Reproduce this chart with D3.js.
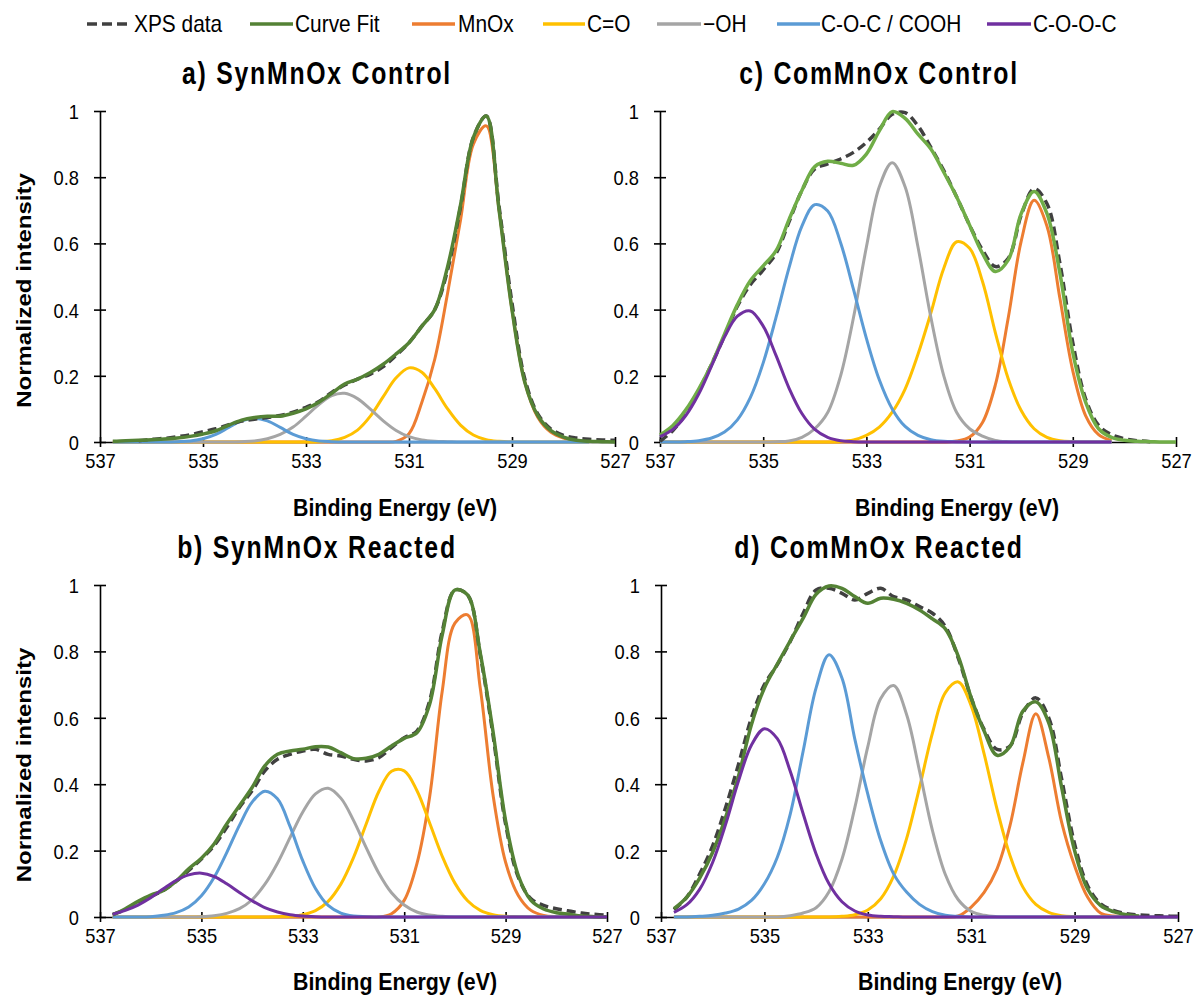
<!DOCTYPE html>
<html>
<head>
<meta charset="utf-8">
<script src="https://cdn.jsdelivr.net/npm/d3@7/dist/d3.min.js"></script>
<style>
  body { margin: 0; background: #fff; }
  text { font-family: "Liberation Sans", Arial, sans-serif; fill: #000; }
</style>
</head>
<body>
<div id="chart"></div>
<script>
// Binding energy grid (eV), shared by every series
var energy = [537, 536.75, 536.5, 536.25, 536, 535.75, 535.5, 535.25, 535, 534.75,
  534.5, 534.25, 534, 533.75, 533.5, 533.25, 533, 532.75, 532.5, 532.25,
  532, 531.75, 531.5, 531.25, 531, 530.75, 530.5, 530.25, 530, 529.75,
  529.5, 529.25, 529, 528.75, 528.5, 528.25, 528, 527.75, 527.5, 527.25, 527];

var xTicks = [537, 535, 533, 531, 529, 527];
var yTicks = [0, 0.2, 0.4, 0.6, 0.8, 1];
var yTickLabels = ["0", "0.2", "0.4", "0.6", "0.8", "1"];

var seriesNames = ["XPS data", "Curve Fit", "MnOx", "C=O", "\u2212OH", "C-O-C / COOH", "C-O-O-C"];
var compColors = ["#ed7d31", "#ffc000", "#a5a5a5", "#5b9bd5", "#7030a0"];

// a) SynMnOx Control
var aXps = [null, null, null, 0.004, 0.008, 0.011, 0.016, 0.022, 0.031, 0.040, 0.052, 0.063, 0.069, 0.074, 0.080, 0.090, 0.105, 0.122, 0.150, 0.172, 0.190, 0.205, 0.228, 0.262, 0.300, 0.350, 0.400, 0.520, 0.710, 0.920, 0.985, 0.710, 0.420, 0.190, 0.085, 0.040, 0.020, 0.012, 0.008, 0.006, 0.005];
var aFit = [null, 0.002, 0.004, 0.005, 0.007, 0.009, 0.012, 0.017, 0.024, 0.034, 0.051, 0.066, 0.074, 0.078, 0.078, 0.087, 0.100, 0.120, 0.147, 0.175, 0.190, 0.210, 0.235, 0.266, 0.300, 0.350, 0.400, 0.530, 0.716, 0.920, 0.985, 0.700, 0.400, 0.180, 0.080, 0.035, 0.015, 0.005, 0.002, 0.001, 0];
var aMnOx = [null, 0, 0, 0, 0, 0, 0, 0, 0, 0, 0, 0, 0, 0, 0, 0, 0, 0, 0, 0, 0, 0, 0, 0.002, 0.025, 0.12, 0.25, 0.45, 0.67, 0.90, 0.955, 0.70, 0.40, 0.18, 0.075, 0.03, 0.012, 0.004, 0.001, null, null];
var aCO = [null, 0, 0, 0, 0, 0, 0, 0, 0, 0, 0, 0, 0, 0, 0, 0, 0, 0.001, 0.004, 0.014, 0.036, 0.078, 0.137, 0.194, 0.224, 0.211, 0.161, 0.100, 0.051, 0.021, 0.007, 0.002, 0, 0, 0, 0, 0, 0, 0, null, null];
var aOH = [null, 0, 0, 0, 0, 0, 0, 0, 0, 0, 0, 0.001, 0.003, 0.010, 0.023, 0.045, 0.078, 0.113, 0.140, 0.147, 0.131, 0.099, 0.064, 0.035, 0.016, 0.006, 0.002, 0.001, 0, 0, 0, 0, 0, 0, 0, 0, 0, 0, 0, null, null];
var aCOC = [null, 0, 0, 0, 0, 0, 0.001, 0.003, 0.010, 0.023, 0.044, 0.064, 0.072, 0.064, 0.044, 0.023, 0.010, 0.003, 0.001, 0, 0, 0, 0, 0, 0, 0, 0, 0, 0, 0, 0, 0, 0, 0, 0, 0, 0, 0, 0, null, null];

// b) SynMnOx Reacted
var bXps = [null, 0.008, 0.022, 0.045, 0.062, 0.080, 0.107, 0.140, 0.175, 0.215, 0.270, 0.330, 0.380, 0.440, 0.475, 0.490, 0.500, 0.505, 0.490, 0.485, 0.475, 0.470, 0.480, 0.510, 0.540, 0.560, 0.650, 0.860, 0.985, 0.970, 0.790, 0.550, 0.280, 0.120, 0.055, 0.035, 0.025, 0.018, 0.012, 0.008, 0.005];
var bFit = [null, 0.006, 0.025, 0.047, 0.066, 0.080, 0.108, 0.145, 0.177, 0.220, 0.280, 0.335, 0.390, 0.455, 0.490, 0.500, 0.505, 0.513, 0.512, 0.495, 0.477, 0.478, 0.490, 0.515, 0.538, 0.555, 0.640, 0.850, 0.985, 0.970, 0.795, 0.560, 0.290, 0.125, 0.050, 0.024, 0.013, 0.008, 0.003, 0.001, 0];
var bMnOx = [null, 0, 0, 0, 0, 0, 0, 0, 0, 0, 0, 0, 0, 0, 0, 0, 0, 0, 0, 0, 0, 0, 0, 0.01, 0.05, 0.16, 0.36, 0.68, 0.885, 0.91, 0.69, 0.37, 0.165, 0.065, 0.02, 0.005, 0.001, 0, 0, 0, 0];
var bCO = [null, 0, 0, 0, 0, 0, 0, 0, 0, 0, 0, 0, 0, 0, 0.001, 0.002, 0.007, 0.019, 0.047, 0.099, 0.179, 0.280, 0.378, 0.439, 0.440, 0.381, 0.284, 0.183, 0.102, 0.049, 0.020, 0.007, 0.002, 0.001, 0, 0, 0, 0, 0, 0, 0];
var bOH = [null, 0, 0, 0, 0, 0, 0, 0, 0.001, 0.004, 0.011, 0.025, 0.052, 0.098, 0.162, 0.240, 0.316, 0.371, 0.388, 0.358, 0.291, 0.209, 0.132, 0.073, 0.036, 0.015, 0.006, 0.002, 0, 0, 0, 0, 0, 0, 0, 0, 0, 0, 0, 0, 0];
var bCOC = [null, 0, 0, 0, 0.001, 0.005, 0.013, 0.030, 0.064, 0.119, 0.194, 0.276, 0.346, 0.379, 0.356, 0.272, 0.169, 0.086, 0.035, 0.012, 0.003, 0.001, 0, 0, 0, 0, 0, 0, 0, 0, 0, 0, 0, 0, 0, 0, 0, 0, 0, 0, 0];
var bCOOC = [null, 0.008, 0.020, 0.036, 0.058, 0.085, 0.110, 0.127, 0.132, 0.122, 0.100, 0.074, 0.049, 0.028, 0.015, 0.007, 0.003, 0.001, 0, 0, 0, 0, 0, 0, 0, 0, 0, 0, 0, 0, 0, 0, 0, 0, 0, 0, 0, 0, 0, 0, 0];

// c) ComMnOx Control
var cXps = [0.002, 0.035, 0.085, 0.155, 0.235, 0.320, 0.410, 0.475, 0.520, 0.570, 0.665, 0.760, 0.825, 0.840, 0.855, 0.875, 0.905, 0.945, 0.990, 0.995, 0.955, 0.890, 0.820, 0.740, 0.655, 0.580, 0.530, 0.555, 0.685, 0.765, 0.720, 0.540, 0.300, 0.130, 0.050, 0.022, 0.010, 0.004, 0.001, null, null];
var cFit = [0.021, 0.050, 0.097, 0.160, 0.235, 0.326, 0.415, 0.487, 0.532, 0.578, 0.672, 0.760, 0.832, 0.848, 0.842, 0.836, 0.870, 0.940, 0.998, 0.978, 0.930, 0.885, 0.815, 0.740, 0.655, 0.570, 0.515, 0.550, 0.690, 0.757, 0.690, 0.510, 0.270, 0.120, 0.040, 0.014, 0.005, 0.002, 0.001, 0, 0];
var cMnOx = [0, 0, 0, 0, 0, 0, 0, 0, 0, 0, 0, 0, 0, 0, 0, 0, 0, 0, 0, 0, 0, 0, 0, 0.003, 0.015, 0.059, 0.173, 0.376, 0.607, 0.730, 0.652, 0.434, 0.215, 0.079, 0.022, 0.004, null, null, null, null, null];
var cCO = [0, 0, 0, 0, 0, 0, 0, 0, 0, 0, 0, 0, 0, 0, 0.001, 0.006, 0.020, 0.045, 0.090, 0.160, 0.265, 0.390, 0.525, 0.605, 0.585, 0.485, 0.330, 0.190, 0.095, 0.040, 0.014, 0.004, 0.001, 0, 0, 0, null, null, null, null, null];
var cOH = [0, 0, 0, 0, 0, 0, 0, 0, 0, 0.001, 0.003, 0.014, 0.040, 0.089, 0.200, 0.376, 0.589, 0.771, 0.844, 0.771, 0.589, 0.376, 0.200, 0.089, 0.040, 0.018, 0.005, 0.001, 0, 0, 0, 0, 0, 0, 0, 0, null, null, null, null, null];
var cCOC = [0, 0, 0.001, 0.004, 0.012, 0.030, 0.067, 0.134, 0.239, 0.377, 0.526, 0.652, 0.717, 0.698, 0.602, 0.461, 0.313, 0.188, 0.100, 0.047, 0.020, 0.007, 0.002, 0.001, 0, 0, 0, 0, 0, 0, 0, 0, 0, 0, 0, 0, null, null, null, null, null];
var cCOOC = [0.016, 0.038, 0.080, 0.145, 0.230, 0.317, 0.380, 0.396, 0.350, 0.261, 0.163, 0.086, 0.038, 0.014, 0.004, 0.001, 0, 0, 0, 0, 0, 0, 0, 0, 0, 0, 0, 0, 0, 0, 0, 0, 0, 0, 0, 0, null, null, null, null, null];

// d) ComMnOx Reacted
var dXps = [null, 0.022, 0.060, 0.130, 0.215, 0.330, 0.460, 0.600, 0.700, 0.760, 0.830, 0.915, 0.985, 0.990, 0.975, 0.955, 0.975, 0.990, 0.965, 0.955, 0.935, 0.915, 0.875, 0.780, 0.660, 0.565, 0.505, 0.515, 0.615, 0.660, 0.600, 0.415, 0.220, 0.095, 0.040, 0.020, 0.010, 0.006, 0.004, 0.003, 0.002];
var dFit = [null, 0.025, 0.060, 0.118, 0.195, 0.300, 0.425, 0.580, 0.690, 0.762, 0.832, 0.900, 0.972, 0.997, 0.990, 0.965, 0.945, 0.960, 0.957, 0.945, 0.925, 0.898, 0.868, 0.785, 0.660, 0.560, 0.487, 0.513, 0.620, 0.648, 0.585, 0.390, 0.200, 0.085, 0.035, 0.016, 0.007, 0.003, null, null, null];
var dMnOx = [null, 0, 0, 0, 0, 0, 0, 0, 0, 0, 0, 0, 0, 0, 0, 0, 0, 0, 0, 0, 0, 0, 0, 0.003, 0.030, 0.074, 0.145, 0.275, 0.465, 0.612, 0.480, 0.285, 0.154, 0.060, 0.012, 0.003, 0.001, 0, 0, 0, 0];
var dCO = [null, 0, 0, 0, 0, 0, 0, 0, 0, 0, 0, 0, 0, 0, 0.002, 0.007, 0.021, 0.055, 0.123, 0.236, 0.390, 0.554, 0.676, 0.708, 0.636, 0.491, 0.325, 0.185, 0.090, 0.038, 0.014, 0.004, 0.001, 0, 0, 0, 0, 0, 0, 0, 0];
var dOH = [null, 0, 0, 0, 0, 0, 0, 0, 0, 0, 0.004, 0.012, 0.028, 0.076, 0.174, 0.330, 0.513, 0.658, 0.697, 0.610, 0.440, 0.261, 0.128, 0.052, 0.017, 0.005, 0.001, 0, 0, 0, 0, 0, 0, 0, 0, 0, 0, 0, 0, 0, 0];
var dCOC = [null, 0, 0, 0.002, 0.005, 0.012, 0.024, 0.050, 0.100, 0.180, 0.310, 0.500, 0.690, 0.790, 0.720, 0.535, 0.370, 0.230, 0.130, 0.075, 0.038, 0.016, 0.005, 0.002, 0, 0, 0, 0, 0, 0, 0, 0, 0, 0, 0, 0, 0, 0, 0, 0, 0];
var dCOOC = [null, 0.014, 0.037, 0.084, 0.165, 0.279, 0.410, 0.518, 0.567, 0.537, 0.439, 0.311, 0.190, 0.100, 0.046, 0.018, 0.006, 0.002, 0.001, 0, 0, 0, 0, 0, 0, 0, 0, 0, 0, 0, 0, 0, 0, 0, 0, 0, 0, 0, 0, 0, 0];

// Panel layout (pixel boxes of each plot area)
var panels = [
  { title: "a) SynMnOx Control", left: 100, right: 615, top: 111, bottom: 442, titleX: 317, titleY: 84, xLabelX: 395, xLabelY: 516, yLabel: true,
    xps: aXps, fit: aFit, fitColor: "#548235", comps: [aMnOx, aCO, aOH, aCOC, null] },
  { title: "b) SynMnOx Reacted", left: 100, right: 607, top: 585, bottom: 917, titleX: 317, titleY: 558, xLabelX: 395, xLabelY: 990, yLabel: true,
    xps: bXps, fit: bFit, fitColor: "#548235", comps: [bMnOx, bCO, bOH, bCOC, bCOOC] },
  { title: "c) ComMnOx Control", left: 660, right: 1176, top: 111, bottom: 442, titleX: 879, titleY: 84, xLabelX: 957, xLabelY: 516, yLabel: false,
    xps: cXps, fit: cFit, fitColor: "#70ad47", comps: [cMnOx, cCO, cOH, cCOC, cCOOC] },
  { title: "d) ComMnOx Reacted", left: 661, right: 1178, top: 585, bottom: 917, titleX: 879, titleY: 558, xLabelX: 960, xLabelY: 990, yLabel: false,
    xps: dXps, fit: dFit, fitColor: "#548235", comps: [dMnOx, dCO, dOH, dCOC, dCOOC] }
];

var svg = d3.select("#chart")
  .append("svg")
    .attr("width", 1195)
    .attr("height", 998);

// horizontally condensed text, like the squeezed original
function label(g, x, y, str, size, weight, anchor, sx, rotate) {
  return g.append("g")
      .attr("transform", "translate(" + x + "," + y + ") scale(" + sx + ",1)" + (rotate ? " rotate(-90)" : ""))
    .append("text")
      .attr("text-anchor", anchor)
      .attr("font-size", size)
      .attr("font-weight", weight)
      .text(str);
}

panels.forEach(function(p) {
  var x = d3.scaleLinear().domain([537, 527]).range([p.left, p.right]);
  var y = d3.scaleLinear().domain([0, 1]).range([p.bottom, p.top]);
  var g = svg.append("g");

  // Y axis
  var yAxis = g.append("g")
      .attr("transform", "translate(" + p.left + ",0)")
      .call(d3.axisLeft(y).tickValues(yTicks).tickSizeOuter(0)
        .tickFormat(function(d, i) { return yTickLabels[i]; }));
  yAxis.select(".domain").attr("stroke", "#000").attr("stroke-width", 1.6);
  yAxis.selectAll(".tick line").attr("x1", 6).attr("x2", -6).attr("stroke", "#000").attr("stroke-width", 1.6);
  yAxis.selectAll(".tick text")
      .attr("font-size", 21)
      .attr("x", -21 / 0.87).attr("dy", "0.36em")
      .attr("transform", "scale(0.87,1)");

  // X axis
  var xAxis = g.append("g")
      .attr("transform", "translate(0," + p.bottom + ")")
      .call(d3.axisBottom(x).tickValues(xTicks).tickSizeOuter(0).tickFormat(d3.format("d")));
  xAxis.select(".domain").attr("stroke", "#000").attr("stroke-width", 1.6);
  xAxis.selectAll(".tick line").attr("y1", -5).attr("y2", 5).attr("stroke", "#000").attr("stroke-width", 1.6);
  xAxis.selectAll(".tick text")
      .attr("font-size", 21)
      .attr("y", 26).attr("dy", null)
      .attr("transform", "scale(0.87,1)");
  g.selectAll("g").attr("font-family", null);
  g.selectAll(".tick text").attr("fill", "#000");

  var line = d3.line()
      .defined(function(d) { return d.v !== null; })
      .x(function(d) { return x(d.e); })
      .y(function(d) { return y(d.v); })
      .curve(d3.curveCatmullRom.alpha(0.5));

  function pts(vals) {
    return energy.map(function(e, i) { return { e: e, v: vals[i] }; });
  }

  function draw(vals, color, width, dash) {
    if (!vals) return;
    g.append("path")
        .datum(pts(vals))
        .attr("fill", "none")
        .attr("stroke", color)
        .attr("stroke-width", width)
        .attr("stroke-linejoin", "round")
        .attr("stroke-dasharray", dash || null)
        .attr("d", line);
  }

  // components below the fit, except C-O-O-C which sits on top
  for (var k = 0; k < 4; k++) draw(p.comps[k], compColors[k], 3);
  draw(p.xps, "#404040", 3.5, "9,5");
  draw(p.fit, p.fitColor, 3.5);
  draw(p.comps[4], compColors[4], 3);

  // titles
  label(g, p.titleX, p.titleY, p.title, 31, "bold", "middle", 0.8).attr("letter-spacing", 2.2);
  label(g, p.xLabelX, p.xLabelY, "Binding Energy (eV)", 24, "bold", "middle", 0.89);
  if (p.yLabel) {
    label(g, 30.5, (p.top + p.bottom) / 2 + 14, "Normalized intensity", 24, "bold", "middle", 0.88, true);
  }
});

// Legend
var legendItems = [
  { x1: 87, x2: 132, tx: 134, color: "#404040", dash: "10,5" },
  { x1: 250, x2: 293, tx: 295, color: "#548235" },
  { x1: 412, x2: 455, tx: 458, color: compColors[0] },
  { x1: 543, x2: 585, tx: 587, color: compColors[1] },
  { x1: 657, x2: 701, tx: 703, color: compColors[2] },
  { x1: 777, x2: 820, tx: 821, color: compColors[3] },
  { x1: 987, x2: 1031, tx: 1033, color: compColors[4] }
];
var legend = svg.append("g");
legendItems.forEach(function(d, i) {
  legend.append("line")
      .attr("x1", d.x1).attr("x2", d.x2)
      .attr("y1", 24).attr("y2", 24)
      .attr("stroke", d.color)
      .attr("stroke-width", 3.5)
      .attr("stroke-dasharray", d.dash || null);
  label(legend, d.tx, 32, seriesNames[i], 24, "normal", "start", 0.87);
});
</script>
</body>
</html>
